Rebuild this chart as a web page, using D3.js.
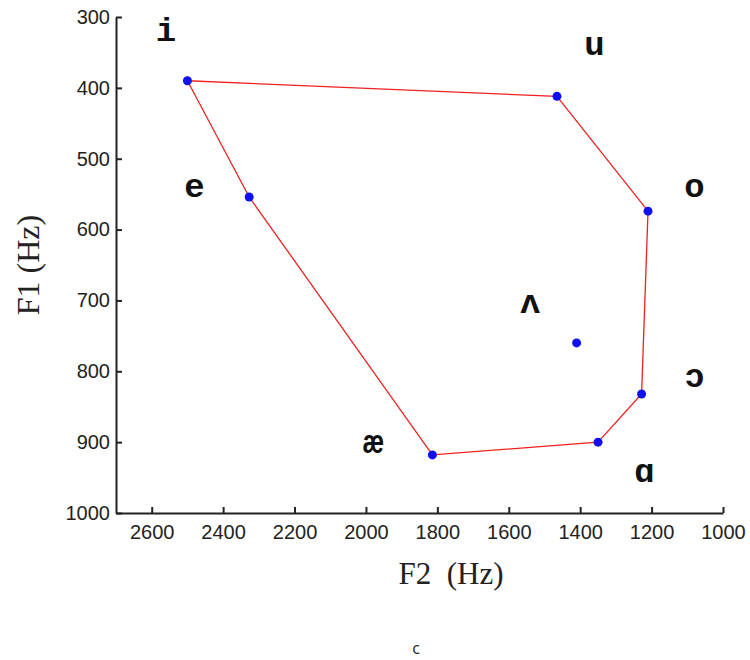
<!DOCTYPE html>
<html>
<head>
<meta charset="utf-8">
<script src="https://cdn.jsdelivr.net/npm/d3@7"></script>
<style>
  body { margin: 0; background: #fff; }
  svg { display: block; }
</style>
</head>
<body>
<div id="chart"></div>
<script>
// vowel formant data (Hz)
var vowels = ["i", "u", "o", "ɔ", "ɑ", "æ", "e", "ʌ"];
var f2 = [2500, 1465, 1210, 1228, 1350, 1814, 2327, 1410];
var f1 = [390, 412, 574, 832, 900, 918, 554, 760];
// where each vowel symbol is written (F2, F1)
var labelF2 = [2560, 1360, 1080, 1080, 1220, 1980, 2480, 1540];
var labelF1 = [334, 354, 554, 822, 956, 915, 554, 718];
// vowels joined by the red outline, in order
var outline = ["i", "u", "o", "ɔ", "ɑ", "æ", "e", "i"];
var xTicks = [2600, 2400, 2200, 2000, 1800, 1600, 1400, 1200, 1000];
var yTicks = [300, 400, 500, 600, 700, 800, 900, 1000];

function drawChart() {
  var w = 750;
  var h = 660;
  var left = 116, right = 723, plotTop = 17, plotBottom = 513;

  var svg = d3.select("#chart")
    .append("svg")
    .attr("width", w)
    .attr("height", h);

  var xScale = d3.scaleLinear()
    .domain([2700, 1000])
    .range([left, right]);

  var yScale = d3.scaleLinear()
    .domain([300, 1000])
    .range([plotTop, plotBottom]);

  var data = vowels.map(function(v, i) {
    return { v: v, f2: f2[i], f1: f1[i], lf2: labelF2[i], lf1: labelF1[i] };
  });
  var byName = {};
  data.forEach(function(d) { byName[d.v] = d; });

  // axes, ticks pointing inward
  var xAxis = svg.append("g")
    .attr("transform", "translate(0," + plotBottom + ")")
    .call(d3.axisBottom(xScale).tickValues(xTicks).tickFormat(d3.format("d"))
      .tickSizeInner(-6).tickSizeOuter(0).tickPadding(12));

  var yAxis = svg.append("g")
    .attr("transform", "translate(" + left + ",0)")
    .call(d3.axisLeft(yScale).tickValues(yTicks).tickFormat(d3.format("d"))
      .tickSizeInner(-6).tickSizeOuter(0).tickPadding(6));

  [xAxis, yAxis].forEach(function(g) {
    g.select(".domain").attr("stroke", "#222").attr("stroke-width", 2);
    g.selectAll(".tick line").attr("stroke", "#222").attr("stroke-width", 2);
    g.selectAll(".tick text")
      .attr("fill", "#222")
      .attr("font-family", "Liberation Sans, Arial, sans-serif")
      .attr("font-size", "20px");
  });

  // outline
  var line = d3.line()
    .x(function(d) { return xScale(d.f2); })
    .y(function(d) { return yScale(d.f1); });

  svg.append("path")
    .datum(outline.map(function(v) { return byName[v]; }))
    .attr("fill", "none")
    .attr("stroke", "#f02020")
    .attr("stroke-width", 1.3)
    .attr("d", line);

  // points
  svg.selectAll("circle.pt")
    .data(data)
    .enter()
    .append("circle")
    .attr("class", "pt")
    .attr("cx", function(d) { return xScale(d.f2); })
    .attr("cy", function(d) { return yScale(d.f1); })
    .attr("r", 4.5)
    .attr("fill", "#1010ee");

  // vowel symbols
  svg.selectAll("text.vowel")
    .data(data)
    .enter()
    .append("text")
    .attr("class", "vowel")
    .text(function(d) { return d.v; })
    .attr("x", function(d) { return xScale(d.lf2); })
    .attr("y", function(d) { return yScale(d.lf1); })
    .attr("text-anchor", "middle")
    .attr("font-family", "Liberation Mono, Courier New, monospace")
    .attr("font-weight", "bold")
    .attr("font-size", "34px")
    .attr("fill", "#111");

  // axis titles
  svg.append("text")
    .text("F2  (Hz)")
    .style("white-space", "pre")
    .attr("x", 451)
    .attr("y", 584)
    .attr("text-anchor", "middle")
    .attr("font-family", "Liberation Serif, Times New Roman, serif")
    .attr("font-size", "31px")
    .attr("fill", "#222");

  svg.append("text")
    .text("F1 (Hz)")
    .attr("transform", "translate(39,265) rotate(-90)")
    .attr("text-anchor", "middle")
    .attr("font-family", "Liberation Serif, Times New Roman, serif")
    .attr("font-size", "32px")
    .attr("fill", "#222");

  // caption
  svg.append("text")
    .text("c")
    .attr("x", 416)
    .attr("y", 654)
    .attr("text-anchor", "middle")
    .attr("font-family", "Open Sans, Noto Sans, sans-serif")
    .attr("font-size", "16px")
    .attr("fill", "#222");
}

drawChart();
</script>
</body>
</html>
